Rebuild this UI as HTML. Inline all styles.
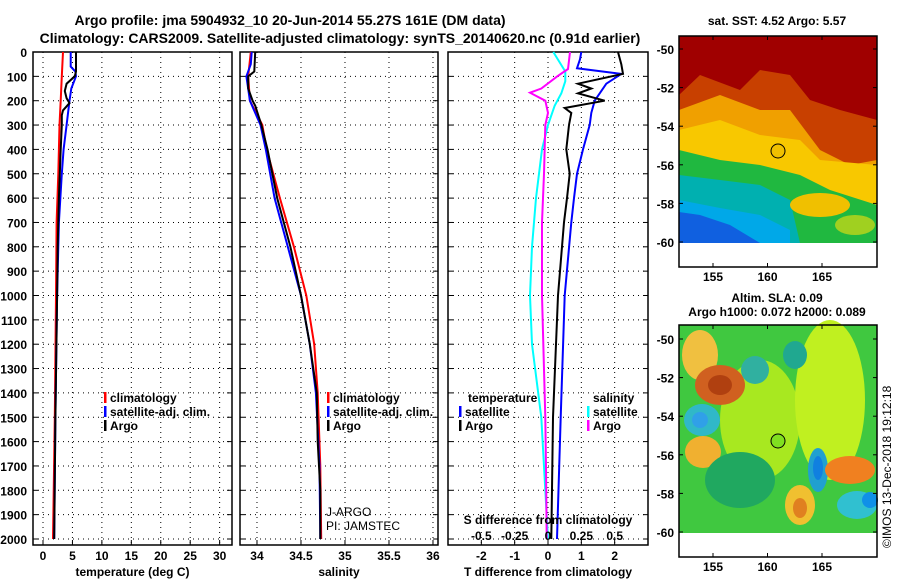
<!DOCTYPE html>
<html><head><meta charset="utf-8"><style>
body{margin:0;background:#fff;}
svg{display:block;font-family:"Liberation Sans",sans-serif;font-weight:bold;}
</style></head><body>
<svg id="c" width="900" height="580" viewBox="0 0 900 580">
<text x="290" y="25" font-size="14" text-anchor="middle">Argo profile: jma 5904932_10 20-Jun-2014 55.27S 161E (DM data)</text>
<text x="340" y="43" font-size="14" text-anchor="middle">Climatology: CARS2009. Satellite-adjusted climatology: synTS_20140620.nc (0.91d earlier)</text>
<text x="777" y="25" font-size="12" text-anchor="middle">sat. SST: 4.52 Argo: 5.57</text>
<text x="777" y="302" font-size="12" text-anchor="middle">Altim. SLA: 0.09</text>
<text x="777" y="316" font-size="12" text-anchor="middle">Argo h1000: 0.072 h2000: 0.089</text>
<text transform="translate(891,548) rotate(-90)" font-size="12" font-weight="normal">©IMOS 13-Dec-2018 19:12:18</text>
<g id="maps"></g>
<g id="plots"></g>
</svg>
<script>
// ---------- data ----------
const depthTicks=[0,100,200,300,400,500,600,700,800,900,1000,1100,1200,1300,1400,1500,1600,1700,1800,1900,2000];
const tempTicks=[0,5,10,15,20,25,30];
const salTicks=[34,34.5,35,35.5,36];
const salTickLabels=["34","34.5","35","35.5","36"];
const tdiffTicks=[-2,-1,0,1,2];
const sdiffTicks=[-0.5,-0.25,0,0.25,0.5];
const sdiffTickLabels=["-0.5","-0.25","0","0.25","0.5"];

const tClimDepth=[0,100,200,300,500,700,1000,1500,2000];
const tClimVal=[3.4,3.2,3.0,2.8,2.6,2.3,2.2,2.0,1.7];
const tSatDepth=[0,60,80,100,150,200,300,400,500,700,1000,1500,2000];
const tSatVal=[4.7,4.7,5.5,5.6,4.8,4.5,4.0,3.5,3.2,2.7,2.4,2.1,1.9];
const tArgoDepth=[0,80,100,130,160,190,210,240,260,300,400,600,800,1000,1500,2000];
const tArgoVal=[5.6,5.6,5.4,4.0,3.7,4.0,4.5,3.4,3.2,3.2,3.0,2.7,2.5,2.4,2.1,1.9];

const sClimDepth=[0,100,200,300,400,600,800,1000,1200,1400,1700,2000];
const sClimVal=[33.93,33.9,33.92,34.06,34.11,34.26,34.42,34.56,34.65,34.69,34.72,34.73];
const sSatDepth=[0,50,100,200,300,400,600,800,1000,1200,1400,1700,2000];
const sSatVal=[33.94,33.93,33.88,33.92,34.04,34.1,34.2,34.35,34.5,34.6,34.67,34.71,34.72];
const sArgoDepth=[0,80,100,150,200,220,300,400,600,800,1000,1200,1400,1600,1800,2000];
const sArgoVal=[33.98,33.97,33.9,33.9,33.95,33.98,34.05,34.12,34.23,34.38,34.5,34.6,34.68,34.69,34.72,34.72];

const dTSatDepth=[0,30,67,90,130,200,250,300,400,500,600,700,1000,1500,2000];
const dTSatVal=[1.0,0.96,0.87,2.2,1.75,1.4,1.3,1.25,1.05,0.87,0.78,0.7,0.5,0.38,0.27];
const dTArgoDepth=[0,50,90,130,150,170,200,230,250,300,400,500,600,700,1000,1500,2000];
const dTArgoVal=[2.1,2.2,2.25,0.9,1.3,0.9,1.7,0.5,0.7,0.63,0.55,0.65,0.57,0.48,0.3,0.15,0.1];
const dSSatDepth=[0,80,120,170,220,300,400,600,800,1000,1200,1500,2000];
const dSSatVal=[0.04,0.13,0.13,0.1,0.05,0.0,-0.045,-0.09,-0.12,-0.135,-0.12,-0.05,0.0];
const dSArgoDepth=[0,70,100,150,167,200,250,300,500,700,1000,1500,1700,2000];
const dSArgoVal=[0.165,0.15,0.07,-0.05,-0.135,-0.02,0.0,-0.02,-0.03,-0.045,-0.045,-0.02,-0.015,-0.01];

// ---------- helpers ----------
const NS="http://www.w3.org/2000/svg";
function mk(tag,attrs,parent){const e=document.createElementNS(NS,tag);for(const k in attrs)e.setAttribute(k,attrs[k]);parent.appendChild(e);return e;}
const plots=document.getElementById('plots');
const Y0=52,YPX=0.2435; // depth->y
function yD(d){return Y0+d*YPX;}
const TOP=52,BOT=545;

function panel(name,x0,x1,xmin,xmax,ticks,labels,xlabel){
  const g=mk('g',{},plots);
  
  
  const sx=v=>x0+(v-xmin)/(xmax-xmin)*(x1-x0);
  depthTicks.forEach(d=>{const l=mk('line',{x1:x0,x2:x1,y1:yD(d),y2:yD(d),stroke:'#000','stroke-width':1,'stroke-dasharray':'1,4'},g);
    
    mk('line',{x1:x0,x2:x0+5,y1:yD(d),y2:yD(d),stroke:'#000'},g);mk('line',{x1:x1-5,x2:x1,y1:yD(d),y2:yD(d),stroke:'#000'},g);});
  ticks.forEach((t,i)=>{const X=sx(t);const l=mk('line',{x1:X,x2:X,y1:TOP,y2:BOT,stroke:'#000','stroke-dasharray':'1,4'},g);
    
    mk('line',{x1:X,x2:X,y1:BOT-5,y2:BOT,stroke:'#000'},g);
    const tx=mk('text',{x:X,y:560,'font-size':12,'text-anchor':'middle'},g);tx.textContent=labels[i];
    });
  mk('rect',{x:x0,y:TOP,width:x1-x0,height:BOT-TOP,fill:'none',stroke:'#000','stroke-width':1.5},g);
  if(xlabel){const t=mk('text',{x:(x0+x1)/2,y:576,'font-size':12,'text-anchor':'middle'},g);t.textContent=xlabel;
    }
  return {g,sx};
}
function line(p,ds,vs,col,name,w){
  const pts=ds.map((d,i)=>p.sx(vs[i]).toFixed(1)+','+yD(d).toFixed(1)).join(' ');
  const l=mk('polyline',{points:pts,fill:'none',stroke:col,'stroke-width':w||2},p.g);
  
  
}
function txt(g,x,y,s,name,size,anchor,weight){const t=mk('text',{x:x,y:y,'font-size':size||12,'text-anchor':anchor||'start'},g);if(weight)t.setAttribute('font-weight',weight);t.textContent=s;
  return t;}
function legItem(g,x,y,col,s,name){const r=mk('rect',{x:x,y:y-10,width:2.5,height:11,fill:col},g);
  
  txt(g,x+6,y,s,name);}

depthTicks.forEach(d=>{txt(plots,27,yD(d)+5,String(d),'depth-tick-label',12,'end');});

const p1=panel('temperature-panel',33,232,-1.7,32.1,tempTicks,tempTicks.map(String),'temperature (deg C)');
line(p1,tClimDepth,tClimVal,'#f00','temp-climatology-line');
line(p1,tSatDepth,tSatVal,'#00f','temp-satellite-line');
line(p1,tArgoDepth,tArgoVal,'#000','temp-argo-line');
legItem(p1.g,104,402,'#f00','climatology','legend-climatology');
legItem(p1.g,104,416,'#00f','satellite-adj. clim.','legend-satellite');
legItem(p1.g,104,430,'#000','Argo','legend-argo');

const p2=panel('salinity-panel',240,438,33.807,36.057,salTicks,salTickLabels,'salinity');
line(p2,sClimDepth,sClimVal,'#f00','sal-climatology-line');
line(p2,sSatDepth,sSatVal,'#00f','sal-satellite-line');
line(p2,sArgoDepth,sArgoVal,'#000','sal-argo-line');
legItem(p2.g,327,402,'#f00','climatology','legend-climatology');
legItem(p2.g,327,416,'#00f','satellite-adj. clim.','legend-satellite');
legItem(p2.g,327,430,'#000','Argo','legend-argo');
txt(p2.g,326,516,'J-ARGO','data-centre-label',12,'start','normal');
txt(p2.g,326,530,'PI: JAMSTEC','pi-label',12,'start','normal');

const p3=panel('difference-panel',448,648,-3,3,tdiffTicks,tdiffTicks.map(String),'T difference from climatology');
const p3s={g:p3.g,sx:v=>p3.sx(v*4)};
line(p3s,dSSatDepth,dSSatVal,'#0ff','sal-diff-satellite-line');
line(p3s,dSArgoDepth,dSArgoVal,'#f0f','sal-diff-argo-line');
line(p3,dTSatDepth,dTSatVal,'#00f','temp-diff-satellite-line');
line(p3,dTArgoDepth,dTArgoVal,'#000','temp-diff-argo-line');
sdiffTicks.forEach((t,i)=>txt(p3.g,p3s.sx(t),540,sdiffTickLabels[i],'s-diff-tick-label',12,'middle'));
txt(p3.g,548,524,'S difference from climatology','s-diff-axis-title',12,'middle');
txt(p3.g,468,402,'temperature','legend-temperature-header');
legItem(p3.g,459,416,'#00f','satellite','legend-temp-satellite');
legItem(p3.g,459,430,'#000','Argo','legend-temp-argo');
txt(p3.g,593,402,'salinity','legend-salinity-header');
legItem(p3.g,587,416,'#0ff','satellite','legend-sal-satellite');
legItem(p3.g,587,430,'#f0f','Argo','legend-sal-argo');

// ---------- maps ----------
const maps=document.getElementById('maps');
const lonTicks=[155,160,165];
function lonX(l){return 713+(l-155)*10.9;}
function mapFrame(name){
  const g=mk('g',{},maps);
  
  
  return g;
}
function finishMap(g,top,bot,lat50){
  mk('rect',{x:679,y:top,width:198,height:bot-top,fill:'none',stroke:'#000','stroke-width':1.5},g);
  [-50,-52,-54,-56,-58,-60].forEach((la,i)=>{const y=lat50+i*19.3*2;
    mk('line',{x1:679,x2:683,y1:y,y2:y,stroke:'#000'},g);mk('line',{x1:873,x2:877,y1:y,y2:y,stroke:'#000'},g);
    txt(g,674,y+5,String(la),'latitude-tick-label',12,'end');});
  lonTicks.forEach(l=>{const x=lonX(l);mk('line',{x1:x,x2:x,y1:top,y2:top+4,stroke:'#000'},g);mk('line',{x1:x,x2:x,y1:bot-4,y2:bot,stroke:'#000'},g);
    txt(g,x,bot+14,String(l),'longitude-tick-label',12,'middle');});
}
function poly(g,pts,col){mk('polygon',{points:pts,fill:col},g);}
function ell(g,cx,cy,rx,ry,col){mk('ellipse',{cx:cx,cy:cy,rx:rx,ry:ry,fill:col},g);}

const m1=mapFrame('sst-map');
mk('rect',{x:679,y:36,width:198,height:207,fill:'#a00000'},m1);
poly(m1,'679,95 700,75 740,90 760,70 790,75 810,100 840,110 877,120 877,243 679,243','#c84000');
poly(m1,'679,110 720,95 760,110 790,110 820,150 850,165 877,160 877,243 679,243','#f0a000');
poly(m1,'679,130 720,120 760,135 800,140 820,160 877,165 877,243 679,243','#f8c800');
poly(m1,'679,150 720,160 760,165 800,175 830,190 877,205 877,243 679,243','#20b840');
poly(m1,'679,175 720,180 760,185 790,200 800,243 679,243','#00b0b0');
poly(m1,'679,200 720,208 760,215 790,230 790,243 679,243','#00a8e8');
poly(m1,'679,212 700,215 730,225 760,243 679,243','#1060e0');
ell(m1,820,205,30,12,'#f0c000');
ell(m1,855,225,20,10,'#a0d020');
mk('circle',{cx:778,cy:151,r:7,fill:'#f0c000',stroke:'#000'},m1);
finishMap(m1,36,267,49);

const m2=mapFrame('sla-map');
mk('rect',{x:679,y:325,width:198,height:208,fill:'#40c840'},m2);
ell(m2,760,420,40,60,'#a8e820');
ell(m2,830,400,35,80,'#c0f020');
ell(m2,700,355,18,25,'#f0c040');
ell(m2,720,385,25,20,'#d06020');
ell(m2,720,385,12,10,'#b04010');
ell(m2,702,420,18,16,'#30b8c8');
ell(m2,700,420,8,8,'#30a0e8');
ell(m2,703,452,18,16,'#f0b030');
ell(m2,755,370,14,14,'#30b0a0');
ell(m2,795,355,12,14,'#20a890');
ell(m2,818,470,10,22,'#20a0d0');
ell(m2,818,468,5,12,'#1080e0');
ell(m2,850,470,25,14,'#f08020');
ell(m2,857,505,20,14,'#30c0d0');
ell(m2,870,500,8,8,'#1090e8');
ell(m2,800,505,15,20,'#f0c030');
ell(m2,800,508,7,10,'#e08020');
ell(m2,740,480,35,28,'#20a860');
mk('circle',{cx:778,cy:441,r:7,fill:'#80e020',stroke:'#000'},m2);
finishMap(m2,325,557,339);
</script>
</body></html>
